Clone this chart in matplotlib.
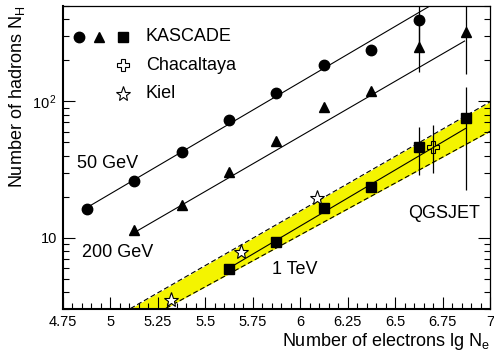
import numpy as np
import matplotlib.pyplot as plt
from matplotlib.ticker import FixedLocator, FixedFormatter, MultipleLocator, NullFormatter, LogLocator

plt.rcParams['font.family'] = ['Liberation Sans', 'DejaVu Sans']
plt.rcParams['mathtext.fontset'] = 'custom'
plt.rcParams['mathtext.rm'] = 'Liberation Sans'
plt.rcParams['mathtext.it'] = 'Liberation Sans:italic'

# KASCADE mean hadron numbers per electron size bin, three energy thresholds
lg_ne_50gev = [4.875, 5.125, 5.375, 5.625, 5.875, 6.125, 6.375, 6.625]
nh_50gev = [16.3, 26.2, 42.8, 72.5, 114.6, 184, 237, 394]
nh_50gev_lo = [0, 0, 0, 0, 0, 0, 0, 145]
nh_50gev_hi = [0, 0, 0, 0, 0, 0, 0, 600]

lg_ne_200gev = [5.125, 5.375, 5.625, 5.875, 6.125, 6.375, 6.625, 6.875]
nh_200gev = [11.3, 17.5, 30.5, 50.8, 90.3, 118.7, 249, 321]
nh_200gev_lo = [0, 0, 0, 0, 0, 0, 86, 163]
nh_200gev_hi = [0, 0, 0, 0, 0, 0, 145, 600]

lg_ne_1tev = [5.625, 5.875, 6.125, 6.375, 6.625, 6.875]
nh_1tev = [5.92, 9.35, 16.6, 23.7, 46.6, 75.0]
nh_1tev_lo = [0, 0, 0, 0, 17.6, 52.5]
nh_1tev_hi = [0, 0, 0, 0, 17.8, 52.0]

# other experiments (1 TeV threshold)
lg_ne_chacaltaya = [6.70]
nh_chacaltaya = [45.9]
nh_chacaltaya_lo = [15.9]
nh_chacaltaya_hi = [20.7]

lg_ne_kiel = [5.32, 5.69, 6.09]
nh_kiel = [3.5, 7.9, 19.4]

# power-law fits, log10(N_H) = a*lg(N_e) + b
fit_50gev = [0.818, -2.768]
fit_50gev_range = [4.875, 6.75]
fit_200gev = [0.807, -3.099]
fit_200gev_range = [5.125, 6.866]
fit_1tev = [0.822, -3.847]
fit_1tev_range = [5.655, 6.871]

# QGSJET prediction for 1 TeV: upper and lower edge of the band
qgsjet_upper = [0.80, -3.604]
qgsjet_lower = [0.76, -3.540]

x_ticks = [4.75, 5.0, 5.25, 5.5, 5.75, 6.0, 6.25, 6.5, 6.75, 7.0]
x_tick_labels = ['4.75', '5', '5.25', '5.5', '5.75', '6', '6.25', '6.5', '6.75', '7']
y_ticks = [10, 100]
y_tick_labels = ['10', '10$^{\\,2}$']

fig = plt.figure(figsize=(4.94, 3.52), dpi=100)
ax = fig.add_axes([0.1275, 0.1222, 0.8644, 0.8608])
ax.set_yscale('log')
ax.set_xlim(4.75, 7.0)
ax.set_ylim(3, 500)

# QGSJET band
xb = np.linspace(4.75, 7.0, 50)
y_up = 10 ** np.polyval(qgsjet_upper, xb)
y_lo = 10 ** np.polyval(qgsjet_lower, xb)
ax.fill_between(xb, y_lo, y_up, color='#f4f400', lw=0, zorder=1)
for yy in (y_up, y_lo):
    ax.plot(xb, yy, color='black', lw=0.8, ls=(0, (4.5, 2.5)), zorder=2)

# fit lines
for coef, rng in [(fit_50gev, fit_50gev_range), (fit_200gev, fit_200gev_range),
                  (fit_1tev, fit_1tev_range)]:
    xf = np.linspace(rng[0], rng[1], 20)
    ax.plot(xf, 10 ** np.polyval(coef, xf), color='black', lw=0.8, zorder=3)

ebar = dict(fmt='none', ecolor='black', elinewidth=0.9, capsize=0, zorder=3)
ax.errorbar(lg_ne_50gev, nh_50gev, yerr=[nh_50gev_lo, nh_50gev_hi], **ebar)
ax.errorbar(lg_ne_200gev, nh_200gev, yerr=[nh_200gev_lo, nh_200gev_hi], **ebar)
ax.errorbar(lg_ne_1tev, nh_1tev, yerr=[nh_1tev_lo, nh_1tev_hi], **ebar)
ax.errorbar(lg_ne_chacaltaya, nh_chacaltaya, yerr=[nh_chacaltaya_lo, nh_chacaltaya_hi], **ebar)

ax.plot(lg_ne_50gev, nh_50gev, 'o', color='black', ms=7.5, zorder=4)
ax.plot(lg_ne_200gev, nh_200gev, '^', color='black', ms=7.5, zorder=4)
ax.plot(lg_ne_1tev, nh_1tev, 's', color='black', ms=7, zorder=4)
ax.plot(lg_ne_chacaltaya, nh_chacaltaya, 'P', mfc='none', mec='black', mew=0.8, ms=8.5, zorder=4)
ax.plot(lg_ne_kiel, nh_kiel, '*', mfc='white', mec='black', mew=0.8, ms=11, zorder=4)

# key
kt = ax.transAxes
ax.plot([0.0375], [0.898], 'o', color='black', ms=7.5, transform=kt)
ax.plot([0.0843], [0.898], '^', color='black', ms=7.5, transform=kt)
ax.plot([0.1405], [0.898], 's', color='black', ms=7, transform=kt)
ax.plot([0.1405], [0.805], 'P', mfc='none', mec='black', mew=0.8, ms=8.5, transform=kt)
ax.plot([0.1405], [0.7096], '*', mfc='white', mec='black', mew=0.8, ms=11, transform=kt)
for y, s in [(0.898, 'KASCADE'), (0.805, 'Chacaltaya'), (0.7096, 'Kiel')]:
    ax.text(0.194, y, s, transform=kt, fontsize=13, va='center', ha='left')

ax.text(0.0328, 0.4785, '50 GeV', transform=kt, fontsize=13, va='center')
ax.text(0.0445, 0.1848, '200 GeV', transform=kt, fontsize=13, va='center')
ax.text(0.4895, 0.1287, '1 TeV', transform=kt, fontsize=13, va='center')
ax.text(0.808, 0.3135, 'QGSJET', transform=kt, fontsize=13, va='center')

ax.xaxis.set_major_locator(FixedLocator(x_ticks))
ax.xaxis.set_major_formatter(FixedFormatter(x_tick_labels))
ax.xaxis.set_minor_locator(MultipleLocator(0.05))
ax.yaxis.set_major_locator(FixedLocator(y_ticks))
ax.yaxis.set_major_formatter(FixedFormatter(y_tick_labels))
ax.yaxis.set_minor_locator(LogLocator(base=10, subs=np.arange(2, 10)))
ax.yaxis.set_minor_formatter(NullFormatter())
ax.tick_params(which='both', direction='in', top=False, right=True, width=0.8,
               labelsize=10.5, pad=4)
ax.tick_params(which='major', length=8.5)
ax.tick_params(which='minor', length=4.5)

ax.spines['left'].set_linewidth(1.5)
ax.spines['bottom'].set_linewidth(1.5)
ax.spines['top'].set_linewidth(0.9)
ax.spines['right'].set_linewidth(0.9)

ax.set_xlabel('Number of electrons lg N$_{\\rm e}$', fontsize=13, loc='right', labelpad=2)
ax.set_ylabel('Number of hadrons N$_{\\rm H}$', fontsize=13, loc='top', labelpad=4)

fig.savefig('out.png', dpi=100)
